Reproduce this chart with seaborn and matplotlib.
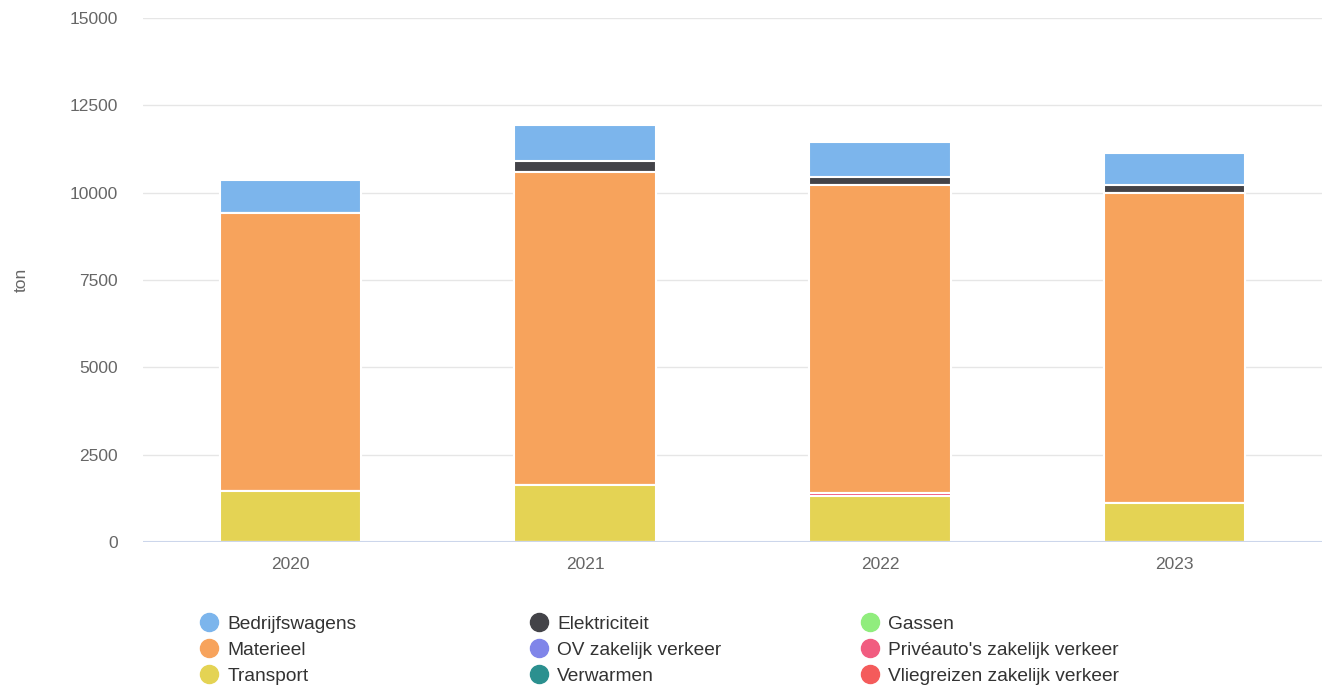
import matplotlib
matplotlib.use("Agg")
import matplotlib.pyplot as plt
import seaborn as sns
import pandas as pd
import numpy as np
from matplotlib.lines import Line2D

years = ["2020", "2021", "2022", "2023"]

# series in legend order (first series sits on top of the stack)
series = [
    "Bedrijfswagens", "Elektriciteit", "Gassen",
    "Materieel", "OV zakelijk verkeer", "Privéauto's zakelijk verkeer",
    "Transport", "Verwarmen", "Vliegreizen zakelijk verkeer",
]
colors = ["#7cb5ec", "#434348", "#90ed7d", "#f7a35c", "#8085e9",
          "#f15c80", "#e4d354", "#2b908f", "#f45b5b"]

bedrijfswagens = [945, 1008, 993, 908]
elektriciteit = [0, 315, 238, 229]
gassen = [0, 0, 0, 0]
materieel = [7955, 8979, 8810, 8883]
ov_zakelijk = [0, 0, 0, 0]
priveauto = [0, 0, 80, 0]
transport = [1450, 1623, 1331, 1117]
verwarmen = [0, 0, 0, 0]
vliegreizen = [0, 0, 0, 0]

values = [bedrijfswagens, elektriciteit, gassen, materieel, ov_zakelijk,
          priveauto, transport, verwarmen, vliegreizen]

sns.set_style("white")
plt.rcParams["font.family"] = ["Liberation Sans", "DejaVu Sans"]

fig = plt.figure(figsize=(13.23, 6.89), dpi=100)
ax = fig.add_axes([143 / 1323, 1 - 542 / 689, 1179 / 1323, 524 / 689])

# cumulative totals from the bottom of the stack up, drawn tallest first
stack = np.cumsum(np.array(values[::-1]), axis=0)[::-1]
for name, col, tops in zip(series, colors, stack):
    df = pd.DataFrame({"year": years, "value": tops})
    sns.barplot(data=df, x="year", y="value", color=col, width=0.48,
                edgecolor="white", linewidth=1.5, saturation=1, ax=ax, zorder=3)

ax.set_ylim(0, 15000)
ax.set_xlim(-0.5, 3.5)
ax.set_yticks(range(0, 15001, 2500))
ax.grid(axis="y", color="#e6e6e6", linewidth=1, zorder=0)
ax.axhline(0, color="#ccd6eb", linewidth=1.5, zorder=4)
for s in ax.spines.values():
    s.set_visible(False)
ax.tick_params(axis="both", length=0, labelsize=12.5, colors="#666666")
ax.tick_params(axis="y", pad=18)
ax.tick_params(axis="x", pad=11)
ax.set_xlabel("")
ax.set_ylabel("ton", fontsize=12.5, color="#666666")
ax.yaxis.set_label_coords(-0.097, 0.5)

# legend: three columns laid out row by row like the original
col_x = [190 / 1323, 520 / 1323, 851 / 1323]
for c in range(3):
    idx = [c, c + 3, c + 6]
    handles = [Line2D([], [], marker="o", linestyle="", markersize=13,
                      markerfacecolor=colors[i], markeredgecolor=colors[i])
               for i in idx]
    fig.legend(handles, [series[i] for i in idx], loc="upper left",
               bbox_to_anchor=(col_x[c], 1 - 606 / 689), frameon=False,
               fontsize=13.8, labelspacing=0.45, handletextpad=0.45,
               handlelength=1.0, borderpad=0, labelcolor="#333333")

fig.savefig("out.png", dpi=100)
